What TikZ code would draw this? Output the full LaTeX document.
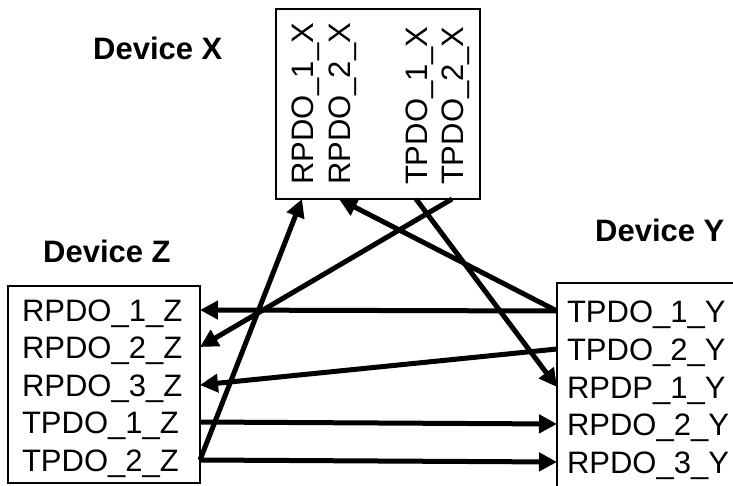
\documentclass[tikz,border=0pt]{standalone}
\usepackage{fontspec}
\setmainfont{Liberation Sans}
\usetikzlibrary{arrows.meta}
\begin{document}
\begin{tikzpicture}[x=1pt,y=-1pt,
  box/.style={draw,line width=2pt,inner sep=0pt,outer sep=0pt,anchor=north west},
  row/.style={inner sep=0pt,outer sep=0pt,text height=22pt,text depth=0pt,anchor=base west,font=\fontsize{31}{37}\selectfont},
  vrow/.style={row,rotate=90},
  devlabel/.style={inner sep=0pt,anchor=base west,font=\fontsize{31}{37}\selectfont\bfseries},
  conn/.style={line width=5pt,-{Triangle[length=18pt,width=18pt]}}]
\useasboundingbox (0,0) rectangle (733,486);
\fill[white] (0,0) rectangle (733,486);
% boxes
\node[box,minimum width=204pt,minimum height=190pt] (X) at (276,9) {};
\node[box,minimum width=192pt,minimum height=197pt] (Z) at (8,286) {};
\node[box,line width=1.5pt,minimum width=200pt,minimum height=230pt] (Y) at (557,283) {};
% labels
\node[devlabel] (lx) at (93,60) {Device X};
\node[devlabel] (lz) at (43,262) {Device Z};
\node[devlabel] (ly) at (595,242) {Device Y};
% Device X rows
\node[vrow] (rx1) at (313,185) {RPDO\_1\_X};
\node[vrow] (rx2) at (350,185) {RPDO\_2\_X};
\node[vrow] (tx1) at (427,185) {TPDO\_1\_X};
\node[vrow] (tx2) at (463,185) {TPDO\_2\_X};
% Device Z rows
\node[row] (rz1) at (22,321) {RPDO\_1\_Z};
\node[row] (rz2) at (22,358) {RPDO\_2\_Z};
\node[row] (rz3) at (22,396) {RPDO\_3\_Z};
\node[row] (tz1) at (22,433) {TPDO\_1\_Z};
\node[row] (tz2) at (22,471) {TPDO\_2\_Z};
% Device Y rows
\node[row] (ty1) at (567,322) {TPDO\_1\_Y};
\node[row] (ty2) at (567,360) {TPDO\_2\_Y};
\node[row] (ry1) at (567,398) {RPDP\_1\_Y};
\node[row] (ry2) at (567,435) {RPDO\_2\_Y};
\node[row] (ry3) at (567,473) {RPDO\_3\_Y};
% connectors
\draw[conn] (ty1 -| Y.west) -- (rz1 -| Z.east);
\draw[conn] (ty1 -| Y.west) -- (rx2 |- X.south);
\draw[conn] (ty2 -| Y.west) -- (rz3 -| Z.east);
\draw[conn] (tx1 |- X.south) -- (ry1 -| Y.west);
\draw[conn] (tx2 |- X.south) -- (rz2 -| Z.east);
\draw[conn] (tz2 -| Z.east) -- (rx1 |- X.south);
\draw[conn] (tz1 -| Z.east) -- (ry2 -| Y.west);
\draw[conn] (tz2 -| Z.east) -- (ry3 -| Y.west);
\end{tikzpicture}
\end{document}
